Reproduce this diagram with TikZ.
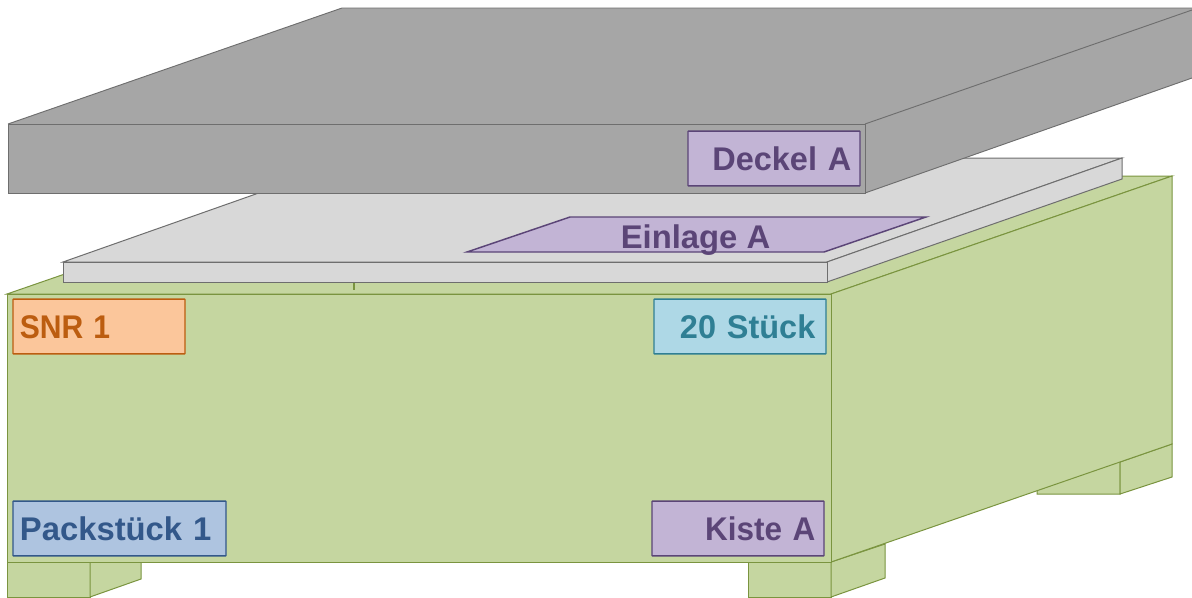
\documentclass[tikz,border=0pt]{standalone}
\usepackage{fontspec}
\setmainfont{Liberation Sans}
\definecolor{crate}{HTML}{C5D6A0}
\definecolor{crateline}{HTML}{7A943F}
\definecolor{lidfill}{HTML}{A6A6A6}
\definecolor{trayfill}{HTML}{D8D8D8}
\definecolor{greyline}{HTML}{6E6E6E}
\definecolor{purplefill}{HTML}{C2B4D5}
\definecolor{purpleline}{HTML}{5B4577}
\definecolor{orangefill}{HTML}{FBC69B}
\definecolor{orangeline}{HTML}{BC5D10}
\definecolor{bluefill}{HTML}{AEC4E0}
\definecolor{blueline}{HTML}{33588A}
\definecolor{tealfill}{HTML}{AED8E6}
\definecolor{tealline}{HTML}{2F7F94}
\tikzset{
  px/.style={x=0.75pt,y=-0.75pt},
  cratepart/.style={fill=crate,draw=crateline,line width=0.75pt,line join=miter},
  lidpart/.style={fill=lidfill,draw=greyline,line width=0.7pt},
  traypart/.style={fill=trayfill,draw=greyline,line width=0.75pt},
  tagtext/.style={font=\bfseries\fontsize{24.6}{28}\selectfont,text height=17.6pt,text depth=0pt},
  tag/.style n args={5}{tagtext,fill=#1,draw=#2,text=#2,line width=1.1pt,rounded corners=0.3pt,
    minimum height=41pt,inner ysep=0pt,inner xsep=#4,text width=#3-2*#4,align=#5},
}
\begin{document}
\begin{tikzpicture}[px]
\useasboundingbox (0,0) rectangle (1192,597);
% feet
\draw[cratepart] (1037,444) -- (1037,494) -- (1120,494) -- (1120,440) -- cycle;
\draw[cratepart] (1120,462) -- (1172,444) -- (1172,477) -- (1120,494) -- cycle;
\draw[cratepart] (7,562) rectangle (90,597);
\draw[cratepart] (90,562) -- (141,562) -- (141,579) -- (90,597) -- cycle;
\draw[cratepart] (748,562) rectangle (831,597);
\draw[cratepart] (831,562) -- (885,544) -- (885,578) -- (831,597) -- cycle;
% crate body
\draw[cratepart] (7,294) -- (348,176) -- (1172,176) -- (831,294) -- cycle;
\draw[cratepart] (831,294) -- (1172,176) -- (1172,444) -- (831,562) -- cycle;
\draw[cratepart] (7,294) rectangle (831,562);
\draw[crateline,line width=0.8pt] (354,282) -- (354,290);
% tray
\draw[traypart] (63,262) -- (358,158) -- (1122,158) -- (827,262) -- cycle;
\draw[traypart] (827,262) -- (1122,158) -- (1122,179) -- (827,282) -- cycle;
\draw[traypart] (63,262) rectangle (827,282);
% Einlage label
\draw[fill=purplefill,draw=purpleline,line width=1.1pt] (467,252) -- (570,217) -- (926,217) -- (824,252) -- cycle;
\node[tagtext,text=purpleline,inner sep=0pt,anchor=base] (einlage) at (695.5,248) {Einlage A};
% lid: the picture's right edge cuts it, so that edge has no line
\fill[lidfill] (8,124) -- (342,8) -- (1192,8) -- (1192,78) -- (865,193) -- (865,124) -- cycle;
\draw[lidpart,fill=none] (8,124) -- (342,8) -- (1192,8);
\draw[lidpart,fill=none] (865,124) -- (1192,10);
\draw[lidpart,fill=none] (865,193) -- (1192,78);
\draw[lidpart] (8,124) rectangle (865,193);
% labels
\node[tag={purplefill}{purpleline}{129pt}{6.5pt}{right}] (deckel) at (774,158.5) {\scalebox{0.99}[1]{Deckel A}};
\node[tag={orangefill}{orangeline}{129pt}{5.2pt}{left}] (snr) at (99,326.5) {\scalebox{0.917}[1]{SNR 1}};
\node[tag={tealfill}{tealline}{129pt}{8pt}{right}] (stueck) at (740,326.5) {\scalebox{0.99}[1]{20 Stück}};
\node[tag={bluefill}{blueline}{159.75pt}{5.2pt}{left}] (pack) at (119.5,528.5) {Packstück 1};
\node[tag={purplefill}{purpleline}{129pt}{6.5pt}{right}] (kiste) at (738,528.5) {\scalebox{0.96}[1]{Kiste A}};
\end{tikzpicture}
\end{document}
